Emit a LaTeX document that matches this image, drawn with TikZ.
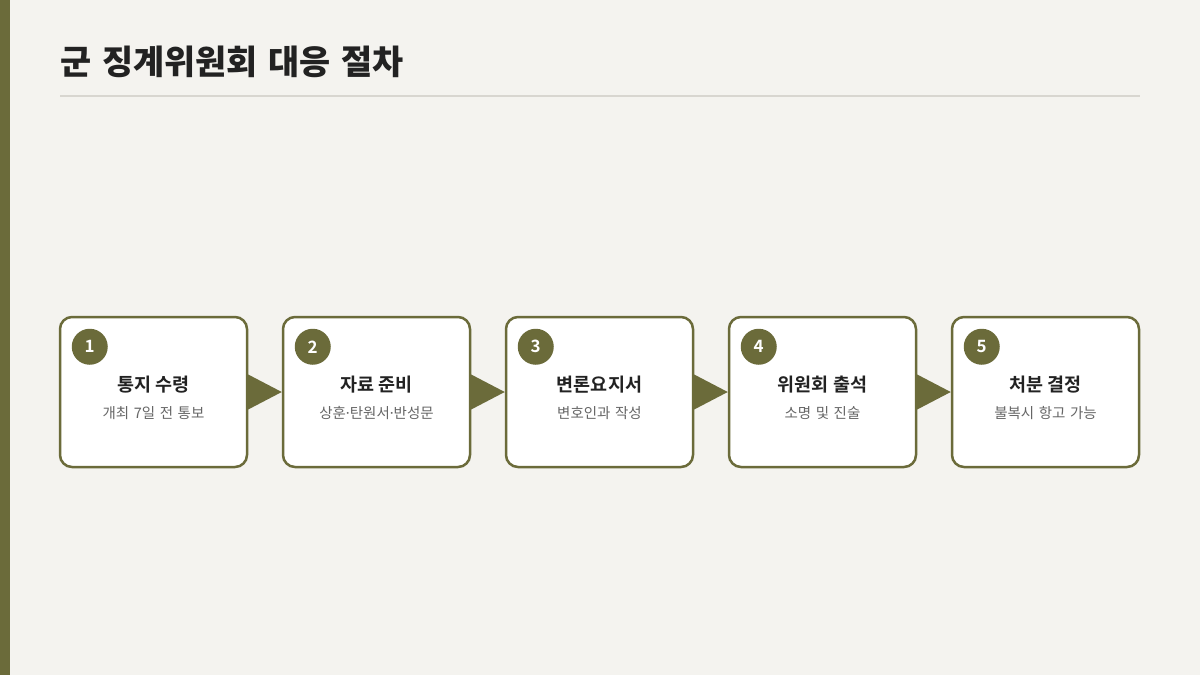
\documentclass[tikz,border=0pt]{standalone}
\usepackage{fontspec}
\newfontfamily\krh[WordSpace=1.4]{Noto Sans CJK KR Black}
\newfontfamily\krb{Noto Sans CJK KR Bold}
\newfontfamily\kr[WordSpace=1.4]{Noto Sans CJK KR}
\newfontfamily\lat{Noto Sans}
\definecolor{olive}{RGB}{107,107,58}
\definecolor{bg}{RGB}{244,243,239}
\definecolor{rulec}{RGB}{216,214,208}
\definecolor{ink}{RGB}{34,34,34}
\definecolor{sub}{RGB}{102,102,102}
\begin{document}
\begin{tikzpicture}[x=1pt,y=-1pt,
  stepbox/.style={draw=olive,line width=2.5pt,fill=white,rounded corners=12pt,minimum width=187pt,minimum height=150pt,inner sep=0pt},
  numdot/.style={circle,fill=olive,minimum size=36pt,inner sep=0pt,text=white,font=\krb\fontsize{17}{17}\selectfont},
  boxtitle/.style={text=ink,font=\krb\fontsize{18.5}{18.5}\selectfont,inner sep=0pt},
  boxsub/.style={text=sub,font=\kr\fontsize{14.5}{14.5}\selectfont,inner sep=0pt},
  flow/.style={fill=olive}]
\useasboundingbox (0,0) rectangle (1200,675);
\fill[bg] (0,0) rectangle (1200,675);
\fill[olive] (0,0) rectangle (10,675);
\node[anchor=base west,inner sep=0pt,text=ink,font=\krh\fontsize{33.8}{33.8}\selectfont] (title) at (60,74) {군 징계위원회 대응 절차};
\draw[rulec,line width=2pt] (60,96) -- (1140,96);
\foreach \i/\t/\s in {1/통지 수령/개최 7일 전 통보,2/자료 준비/상훈{\lat ·}탄원서{\lat ·}반성문,3/변론요지서/변호인과 작성,4/위원회 출석/소명 및 진술,5/처분 결정/불복시 항고 가능}{
  \pgfmathsetmacro{\xx}{153.5+223*(\i-1)}
  \node[stepbox] (b\i) at (\xx,392) {};
  \node[numdot] (n\i) at ([xshift=31pt,yshift=-31pt]b\i.north west) {\i};
  \node[boxtitle] (t\i) at ([yshift=7pt]b\i.center) {\t};
  \node[boxsub] (s\i) at ([yshift=-21pt]b\i.center) {\s};
}
\foreach \a/\b in {1/2,2/3,3/4,4/5}{
  \fill[flow] ([xshift=-1pt,yshift=-18pt]b\a.east) -- ([xshift=-1pt,yshift=18pt]b\a.east) -- (b\b.west) -- cycle;
}
\end{tikzpicture}
\end{document}
